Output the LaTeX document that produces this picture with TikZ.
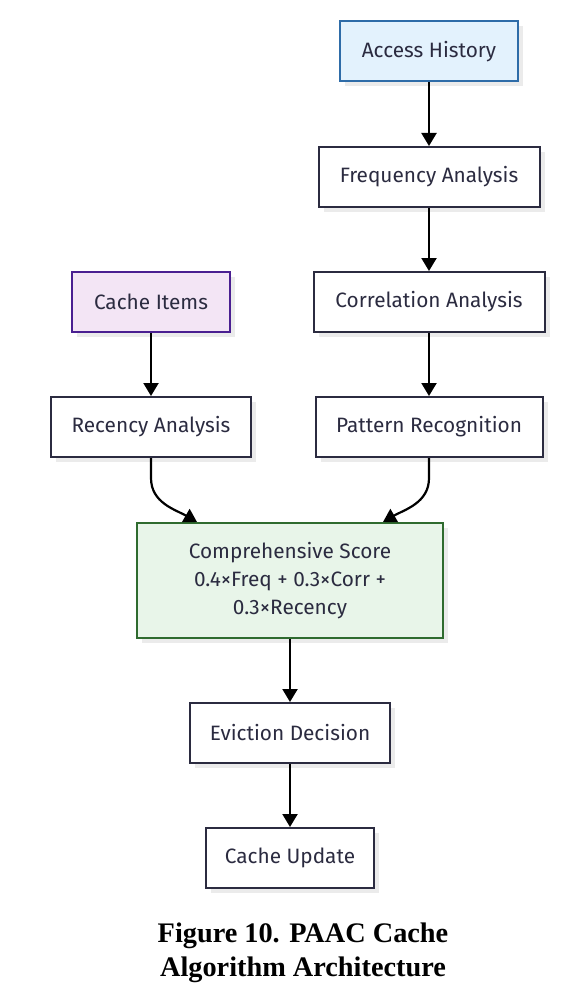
\documentclass[tikz,border=0pt]{standalone}
\usepackage{fontspec}
\setmainfont{Fira Sans}
\newfontfamily\captionfont{Liberation Serif}
\usetikzlibrary{arrows.meta,shadows}

\definecolor{inkdark}{HTML}{2B2B40}
\definecolor{histfill}{HTML}{E3F2FD}
\definecolor{histline}{HTML}{2E6CA8}
\definecolor{itemfill}{HTML}{F3E5F5}
\definecolor{itemline}{HTML}{4A1F91}
\definecolor{scorefill}{HTML}{E8F5E9}
\definecolor{scoreline}{HTML}{2F6B2F}

\tikzset{
  stage/.style={draw=inkdark, line width=2pt, fill=white, text=inkdark,
    inner sep=0pt, minimum height=60pt,
    font=\fontsize{20.8}{28}\selectfont, align=center,
    drop shadow={shadow xshift=5pt, shadow yshift=-5pt, fill=black!8, opacity=1}},
  flow/.style={-{Triangle[width=15pt,length=13pt]}, line width=2.2pt, black}
}

\begin{document}
\begin{tikzpicture}[x=1pt,y=-1pt]
\useasboundingbox (0,0) rectangle (588,1000);

% right branch
\node[stage, draw=histline, fill=histfill, minimum width=178pt] (history) at (429,51.5) {Access History};
\node[stage, minimum width=221pt] (freq) at (429,177) {Frequency Analysis};
\node[stage, minimum width=231pt] (corr) at (429,302) {Correlation Analysis};
\node[stage, minimum width=227pt] (pattern) at (429,427) {Pattern Recognition};

% left branch
\node[stage, draw=itemline, fill=itemfill, minimum width=158pt] (items) at (151,302) {Cache Items};
\node[stage, minimum width=200pt] (recency) at (151,427) {Recency Analysis};

% merge and output
\node[stage, draw=scoreline, fill=scorefill, minimum width=306pt, minimum height=115pt] (score) at (290,580.5)
  {Comprehensive Score\\0.4×Freq + 0.3×Corr +\\0.3×Recency};
\node[stage, minimum width=200pt] (evict) at (290,733) {Eviction Decision};
\node[stage, minimum width=168pt] (update) at (290,858) {Cache Update};

\draw[flow] (history) -- (freq);
\draw[flow] (freq) -- (corr);
\draw[flow] (corr) -- (pattern);
\draw[flow] (items) -- (recency);
\draw[flow] (recency.south) -- ++(0,20) to[out=-90,in=150] ([xshift=-93pt]score.north);
\draw[flow] (pattern.south) -- ++(0,20) to[out=-90,in=30] ([xshift=93pt]score.north);
\draw[flow] (score) -- (evict);
\draw[flow] (evict) -- (update);

\node[font=\captionfont\bfseries\fontsize{28.3}{34}\selectfont, align=center] (caption) at (303,953)
  {Figure 10. PAAC Cache\\Algorithm Architecture};
\end{tikzpicture}
\end{document}
